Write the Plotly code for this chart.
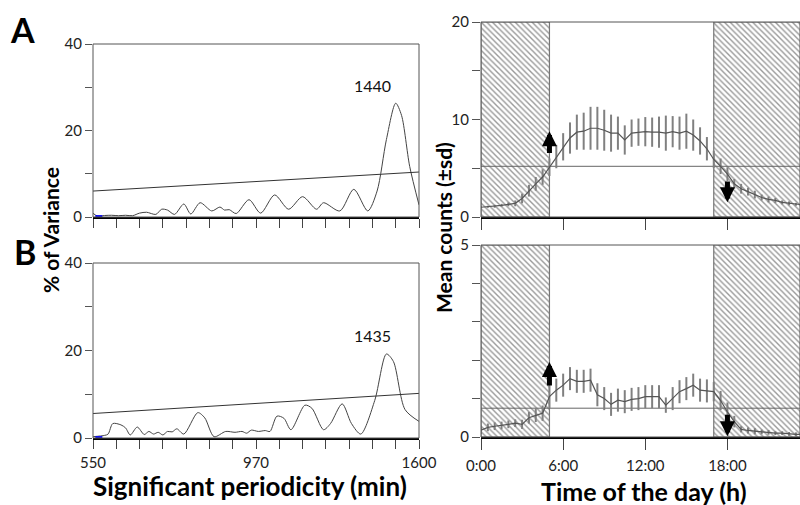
import plotly.graph_objects as go

# --- periodograms (x in tick steps: 0 = 550 min, 7 = 970 min, 14 = 1600 min)
per_ticks = list(range(15))
per_labels = ['550', '', '', '', '', '', '', '970', '', '', '', '', '', '', '1600']

a_x = [0, 0.2, 0.5, 0.8, 1.1, 1.4, 1.7, 2.0, 2.3, 2.7, 2.95, 3.2, 3.5, 3.9, 4.2, 4.6, 5.1,
       5.45, 5.65, 5.85, 6.15, 6.7, 7.2, 7.8, 8.4, 9.0, 9.6, 9.9, 10.6, 11.2, 11.8, 12.2,
       12.6, 13.0, 13.25, 13.6, 14.0]
a_y = [0.85, 0.2, 0.35, 0.4, 0.3, 0.4, 0.3, 0.9, 1.1, 0.6, 1.8, 1.6, 0.6, 3.0, 0.7, 3.3, 1.4,
       2.3, 1.6, 1.7, 0.8, 4.0, 0.9, 5.1, 1.8, 4.7, 1.8, 3.3, 1.4, 6.4, 1.4, 6.0,
       17.9, 26.3, 23.5, 11.7, 2.8]
a_sig = [6.0, 10.4]

b_x = [0, 0.5, 0.65, 0.85, 1.2, 1.4, 1.6, 1.9, 2.2, 2.4, 2.6, 2.8, 3.0, 3.2, 3.4, 3.6, 3.9,
       4.5, 4.8, 5.2, 5.7, 6.1, 6.4, 6.6, 6.8, 7.1, 7.4, 7.6, 7.9, 8.2, 8.5, 9.1, 9.4, 9.9,
       10.2, 10.7, 11.1, 11.5, 12.1, 12.6, 12.9, 13.4, 14.0]
b_y = [0.3, 0.6, 0.9, 3.3, 3.0, 2.3, 0.7, 2.5, 0.8, 1.5, 0.9, 1.3, 0.7, 1.5, 1.4, 2.1, 0.9,
       5.8, 4.6, 0.3, 1.5, 1.3, 1.5, 1.1, 1.8, 1.5, 1.7, 1.5, 5.0, 4.5, 1.9, 7.5, 6.8, 1.9,
       3.3, 7.8, 3.3, 0.9, 8.6, 19.2, 17.5, 6.5, 3.8]
b_sig = [5.6, 10.2]

peak_a = ('1440', 12.0, 30.5)
peak_b = ('1435', 12.0, 23.5)

# --- daily activity profiles (half-hour bins)
hours = [0, 0.5, 1, 1.5, 2, 2.5, 3, 3.5, 4, 4.5, 5, 5.5, 6, 6.5, 7, 7.5, 8, 8.5, 9, 9.5,
         10, 10.5, 11, 11.5, 12, 12.5, 13, 13.5, 14, 14.5, 15, 15.5, 16, 16.5, 17, 17.5,
         18, 18.5, 19, 19.5, 20, 20.5, 21, 21.5, 22, 22.5, 23, 23.5]

top_mean = [1.0, 1.05, 1.1, 1.2, 1.3, 1.4, 1.9, 2.7, 3.4, 4.1, 5.1, 6.2, 7.2, 8.1, 8.7, 8.8,
            9.1, 9.1, 8.9, 8.6, 8.6, 7.9, 8.6, 8.7, 8.75, 8.7, 8.7, 8.6, 8.75, 8.6, 8.8, 8.4,
            7.8, 7.0, 5.9, 5.2, 4.4, 3.4, 2.9, 2.6, 2.3, 2.0, 1.8, 1.7, 1.5, 1.4, 1.3, 1.25]
top_sd = [0.1, 0.1, 0.15, 0.15, 0.2, 0.3, 0.5, 0.6, 0.7, 0.8, 0.9, 1.2, 1.4, 1.6, 1.8, 1.9,
          2.2, 2.2, 2.1, 1.9, 1.7, 1.5, 1.4, 1.4, 1.5, 1.5, 1.6, 1.8, 1.6, 1.7, 1.8, 1.6,
          1.4, 1.2, 0.9, 0.8, 0.7, 0.5, 0.5, 0.4, 0.4, 0.3, 0.3, 0.25, 0.2, 0.2, 0.15, 0.15]
top_thr = 5.2

bot_mean = [0.18, 0.25, 0.28, 0.3, 0.33, 0.36, 0.33, 0.5, 0.57, 0.62, 1.05, 1.22, 1.35, 1.52,
            1.45, 1.45, 1.48, 1.1, 1.0, 0.85, 0.96, 0.92, 0.98, 1.0, 1.05, 1.05, 1.05, 0.83,
            1.0, 1.18, 1.26, 1.35, 1.22, 1.2, 1.18, 0.95, 0.65, 0.4, 0.2, 0.17, 0.15, 0.13,
            0.12, 0.1, 0.1, 0.08, 0.07, 0.07]
bot_sd = [0.1, 0.1, 0.1, 0.1, 0.1, 0.1, 0.12, 0.15, 0.18, 0.2, 0.3, 0.3, 0.3, 0.3,
          0.3, 0.3, 0.3, 0.3, 0.3, 0.3, 0.3, 0.3, 0.3, 0.3, 0.3, 0.3, 0.3, 0.2,
          0.3, 0.3, 0.3, 0.3, 0.3, 0.3, 0.25, 0.25, 0.25, 0.15, 0.08, 0.08, 0.08, 0.06,
          0.06, 0.05, 0.05, 0.05, 0.05, 0.05]
bot_thr = 0.75

dark = [(0, 5), (17, 24)]
time_ticks = [0, 6, 12, 18, 24]
time_labels = ['0:00', '6:00', '12:00', '18:00', '24:00']

# arrows: (x, tail, head)
top_arrows = [(5, 6.4, 8.8), (18, 3.8, 1.5)]
bot_arrows = [(5, 1.3, 1.95), (18, 0.62, 0.02)]

FONT = 'Lato'
fig = go.Figure()

# left periodograms
for xs, ys, sig, ax in [(a_x, a_y, a_sig, ''), (b_x, b_y, b_sig, '2')]:
    fig.add_trace(go.Scatter(x=xs, y=ys, mode='lines', line=dict(color='#444', width=1, shape='spline', smoothing=0.8),
                             xaxis='x' + ax, yaxis='y' + ax, showlegend=False, hoverinfo='skip'))
    fig.add_trace(go.Scatter(x=[0, 14], y=sig, mode='lines', line=dict(color='#333', width=1),
                             xaxis='x' + ax, yaxis='y' + ax, showlegend=False, hoverinfo='skip'))
    fig.add_trace(go.Scatter(x=[0.1, 0.4], y=[0.2, 0.2], mode='lines', line=dict(color='blue', width=2),
                             xaxis='x' + ax, yaxis='y' + ax, showlegend=False, hoverinfo='skip'))

# right profiles
for mean, sd, thr, ymax, ax in [(top_mean, top_sd, top_thr, 20, '3'), (bot_mean, bot_sd, bot_thr, 5, '4')]:
    for x0, x1 in dark:
        fig.add_trace(go.Scatter(x=[x0, x1, x1, x0, x0], y=[0, 0, ymax, ymax, 0], mode='lines',
                                 fill='toself', fillcolor='white',
                                 fillpattern=dict(shape='\\', size=4, solidity=0.35, fgcolor='#333', bgcolor='white'),
                                 line=dict(color='#777', width=1.2),
                                 xaxis='x' + ax, yaxis='y' + ax, showlegend=False, hoverinfo='skip'))
    fig.add_trace(go.Scatter(x=[0, 24], y=[thr, thr], mode='lines', line=dict(color='#666', width=1),
                             xaxis='x' + ax, yaxis='y' + ax, showlegend=False, hoverinfo='skip'))
    fig.add_trace(go.Scatter(x=hours, y=mean, mode='lines', line=dict(color='#555', width=1.2),
                             error_y=dict(type='data', array=sd, color='#808080', thickness=2, width=0),
                             xaxis='x' + ax, yaxis='y' + ax, showlegend=False, hoverinfo='skip'))

annotations = []
for arrows, ax in [(top_arrows, '3'), (bot_arrows, '4')]:
    for x, tail, head in arrows:
        annotations.append(dict(x=x, y=head, ax=x, ay=tail, xref='x' + ax, yref='y' + ax,
                                axref='x' + ax, ayref='y' + ax, text='', showarrow=True,
                                arrowhead=2, arrowsize=0.6, arrowwidth=5, arrowcolor='black'))

for txt, x, y, ax in [(peak_a[0], peak_a[1], peak_a[2], ''), (peak_b[0], peak_b[1], peak_b[2], '2')]:
    annotations.append(dict(x=x, y=y, xref='x' + ax, yref='y' + ax, text=txt, showarrow=False,
                            font=dict(family=FONT, size=16, color='#111')))

def label(text, px, py, size, angle=0):
    return dict(x=px / 800, y=1 - py / 505, xref='paper', yref='paper', text=text, showarrow=False,
                xanchor='center', yanchor='middle', textangle=angle,
                font=dict(family=FONT, size=size, color='black'))

annotations += [
    label('<b>A</b>', 22, 29, 34),
    label('<b>B</b>', 25, 251, 34),
    label('<b>Significant periodicity (min)</b>', 250, 486, 26),
    label('<b>Time of the day (h)</b>', 644, 491, 25),
    label('<b>% of Variance</b>', 51, 230, 21, -90),
    label('<b>Mean counts (±sd)</b>', 444, 228, 21, -90),
]

shapes = []
for ax in ['', '2', '3', '4']:
    shapes.append(dict(type='rect', xref=('x' + ax) + ' domain', yref=('y' + ax) + ' domain',
                       x0=0, x1=1, y0=0, y1=1, line=dict(color='#555', width=1)))

tickfont = dict(family=FONT, size=15, color='#222')
left_dom = [93 / 800, 419 / 800]
right_dom = [481 / 800, 1.0]

def xax(dom, anchor, rng, vals, text, show, ticklen, standoff):
    return dict(domain=dom, anchor=anchor, range=rng, tickvals=vals, ticktext=text, showticklabels=show,
                ticks='outside', ticklen=ticklen, tickcolor='#444', tickwidth=1, showline=True, linecolor='black',
                linewidth=2, showgrid=False, zeroline=False, tickfont=tickfont, ticklabelstandoff=standoff,
                automargin=False)

def yax(dom, anchor, rng, vals, text, ticklen):
    return dict(domain=dom, anchor=anchor, range=rng, tickvals=vals, ticktext=text, ticks='outside',
                ticklen=ticklen, tickcolor='#555', tickwidth=1, showline=False, showgrid=False, zeroline=False,
                tickfont=tickfont, automargin=False)

fig.update_layout(
    width=800, height=505, margin=dict(l=0, r=0, t=0, b=0, autoexpand=False),
    paper_bgcolor='white', plot_bgcolor='white',
    xaxis=xax(left_dom, 'y', [0, 14], per_ticks, per_labels, False, 9, 1),
    yaxis=yax([1 - 217 / 505, 1 - 44 / 505], 'x', [0, 40], [0, 10, 20, 30, 40], ['0', '', '20', '', '40'], 7),
    xaxis2=xax(left_dom, 'y2', [0, 14], per_ticks, per_labels, True, 9, 1),
    yaxis2=yax([1 - 438 / 505, 1 - 263 / 505], 'x2', [0, 40], [0, 10, 20, 30, 40], ['0', '', '20', '', '40'], 7),
    xaxis3=xax(right_dom, 'y3', [0, 23.3], time_ticks, time_labels, False, 11, 3),
    yaxis3=yax([1 - 217 / 505, 1 - 22 / 505], 'x3', [0, 20], [0, 5, 10, 15, 20], ['0', '', '10', '', '20'], 8),
    xaxis4=xax(right_dom, 'y4', [0, 23.3], time_ticks, time_labels, True, 11, 3),
    yaxis4=yax([1 - 437 / 505, 1 - 245 / 505], 'x4', [0, 5], [0, 1, 2, 3, 4, 5], ['0', '', '', '', '', '5'], 8),
    annotations=annotations, shapes=shapes,
)

# the page body has a default 8px margin; drop it so the figure fills the window
fig.write_html("out.html", config={'displayModeBar': False},
               post_script="document.body.style.margin='0';")
